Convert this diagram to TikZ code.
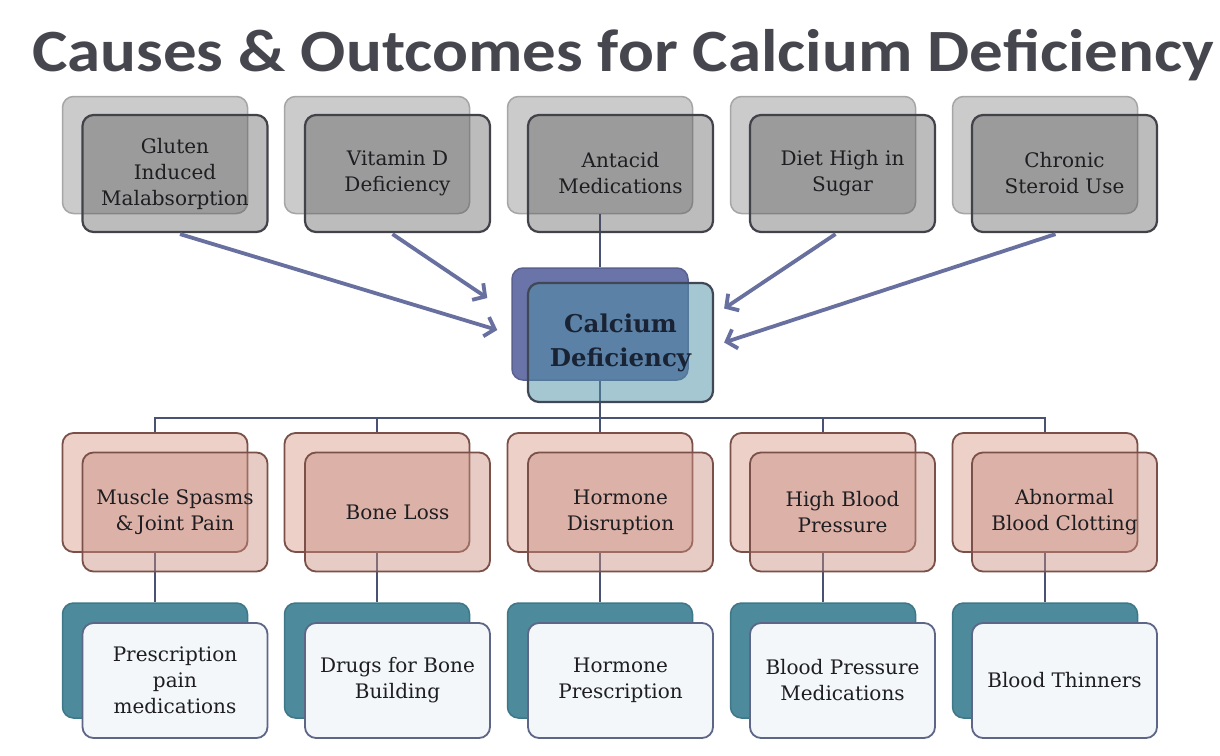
\documentclass[tikz,border=0pt]{standalone}
\usepackage{fontspec}
\setmainfont{DejaVu Serif}
\newfontfamily\titlefont{Carlito}
\usetikzlibrary{arrows.meta,calc}
\definecolor{titlec}{HTML}{46464E}
\definecolor{txtc}{HTML}{1E1E22}
\definecolor{ctxtc}{HTML}{1A2334}
\definecolor{gbackfill}{HTML}{CBCBCB}
\definecolor{gbackline}{HTML}{A6A6A6}
\definecolor{gfrontfill}{HTML}{484848}
\definecolor{gline}{HTML}{42424A}
\definecolor{cbackfill}{HTML}{6A74A8}
\definecolor{cbackline}{HTML}{5A6090}
\definecolor{cfrontfill}{HTML}{4D91A5}
\definecolor{cline}{HTML}{404858}
\definecolor{pbackfill}{HTML}{EDD1C9}
\definecolor{pfrontfill}{HTML}{C98E80}
\definecolor{pline}{HTML}{7A5048}
\definecolor{tbackfill}{HTML}{4C8A9C}
\definecolor{tbackline}{HTML}{3E7888}
\definecolor{tfrontfill}{HTML}{F3F7F9}
\definecolor{tline}{HTML}{5E6688}
\definecolor{treec}{HTML}{4A5274}
\definecolor{arrowc}{HTML}{6870A0}
\begin{document}
\begin{tikzpicture}[x=1pt,y=-1pt,
  box/.style={rectangle, rounded corners=11pt, minimum width=185pt, minimum height=117pt,
    inner sep=0pt, align=center, font=\fontsize{20}{26}\selectfont, text=txtc},
  gback/.style={box, fill=gbackfill, draw=gbackline, line width=1.5pt},
  gfront/.style={box, fill=gfrontfill, fill opacity=0.36, text opacity=1, draw=gline, draw opacity=1, line width=2.2pt},
  cback/.style={box, minimum width=176pt, minimum height=112pt, fill=cbackfill, draw=cbackline, line width=1.5pt},
  cfront/.style={box, minimum height=119pt, fill=cfrontfill, fill opacity=0.5, text opacity=1, draw=cline, draw opacity=1, line width=2.2pt, text=ctxtc, font=\bfseries\fontsize{24.5}{34}\selectfont},
  pback/.style={box, minimum height=119pt, fill=pbackfill, draw=pline, line width=1.8pt},
  pfront/.style={box, minimum height=119pt, fill=pfrontfill, fill opacity=0.45, text opacity=1, draw=pline, draw opacity=1, line width=1.8pt},
  tback/.style={box, minimum height=115pt, fill=tbackfill, draw=tbackline, line width=1.5pt},
  tfront/.style={box, minimum height=115pt, fill=tfrontfill, draw=tline, line width=1.8pt},
  tree/.style={draw=treec, line width=2.2pt},
  causearrow/.style={draw=arrowc, line width=3.8pt, -{Straight Barb[length=9pt,width=20pt]}}
]
\useasboundingbox (0,0) rectangle (1220,755);
\fill[white] (0,0) rectangle (1220,755);

\node[font=\titlefont\bfseries\fontsize{60}{60}\selectfont, text=titlec, anchor=base, inner sep=0pt] (title) at (623,71) {\scalebox{1.115}[1]{Causes \& Outcomes for Calcium Deficiency}};

% back boxes
\node[gback] (t1b) at (155,155) {};
\node[gback] (t2b) at (377,155) {};
\node[gback] (t3b) at (600,155) {};
\node[gback] (t4b) at (823,155) {};
\node[gback] (t5b) at (1045,155) {};
\node[cback] (cb) at (600,324) {};
\node[pback] (p1b) at (155,492.5) {};
\node[pback] (p2b) at (377,492.5) {};
\node[pback] (p3b) at (600,492.5) {};
\node[pback] (p4b) at (823,492.5) {};
\node[pback] (p5b) at (1045,492.5) {};
\node[tback] (b1b) at (155,660.5) {};
\node[tback] (b2b) at (377,660.5) {};
\node[tback] (b3b) at (600,660.5) {};
\node[tback] (b4b) at (823,660.5) {};
\node[tback] (b5b) at (1045,660.5) {};

% tree connectors
\coordinate (hub) at (600,418);
\draw[tree] (t3b.south) -- (cb.north);
\draw[tree] (cb.south) -- (hub);
\draw[tree] (p1b.north) |- (hub) -| (p5b.north);
\draw[tree] (hub) -| (p2b.north);
\draw[tree] (hub) -| (p4b.north);
\draw[tree] (hub) -- (p3b.north);
\draw[tree] (p1b.south) -- (b1b.north);
\draw[tree] (p2b.south) -- (b2b.north);
\draw[tree] (p3b.south) -- (b3b.north);
\draw[tree] (p4b.south) -- (b4b.north);
\draw[tree] (p5b.south) -- (b5b.north);

% front boxes
\node[gfront] (t1f) at (175,173.5) {Gluten\\Induced\\Malabsorption};
\node[gfront] (t2f) at (397.5,173.5) {Vitamin D\\Deficiency};
\node[gfront] (t3f) at (620.5,173.5) {Antacid\\Medications};
\node[gfront] (t4f) at (842.5,173.5) {Diet High in\\Sugar};
\node[gfront] (t5f) at (1064.5,173.5) {Chronic\\Steroid Use};
\node[cfront] (cf) at (620.5,342.5) {Calcium\\Deficiency};
\node[pfront] (p1f) at (175,512) {Muscle Spasms\\\&\,Joint Pain};
\node[pfront] (p2f) at (397.5,512) {Bone Loss};
\node[pfront] (p3f) at (620.5,512) {Hormone\\Disruption};
\node[pfront] (p4f) at (842.5,512) {High Blood\\Pressure};
\node[pfront] (p5f) at (1064.5,512) {Abnormal\\Blood Clotting};
\node[tfront] (b1f) at (175,680.5) {Prescription\\pain\\medications};
\node[tfront] (b2f) at (397.5,680.5) {Drugs for Bone\\Building};
\node[tfront] (b3f) at (620.5,680.5) {Hormone\\Prescription};
\node[tfront] (b4f) at (842.5,680.5) {Blood Pressure\\Medications};
\node[tfront] (b5f) at (1064.5,680.5) {Blood Thinners};

% cause arrows
\coordinate (in1) at ($(cb.west)+(-14,6)$);
\coordinate (in2) at ($(cb.west)+(-24,-26)$);
\coordinate (in4) at ($(cf.east)+(10,-34)$);
\coordinate (in5) at ($(cf.east)+(10,0)$);
\draw[causearrow] ($(t1f.south)+(5,1)$) -- (in1);
\draw[causearrow] ($(t2f.south)+(-5,1)$) -- (in2);
\draw[causearrow] ($(t4f.south)+(-7,1)$) -- (in4);
\draw[causearrow] ($(t5f.south)+(-9,1)$) -- (in5);
\end{tikzpicture}
\end{document}
